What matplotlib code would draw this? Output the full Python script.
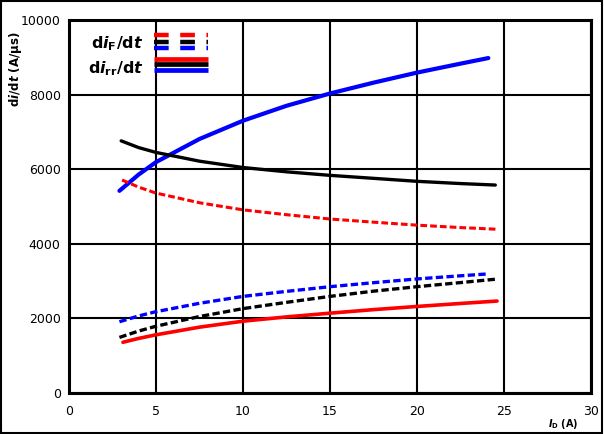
import matplotlib
matplotlib.use("Agg")
import matplotlib.pyplot as plt

plt.rcParams['font.family'] = ['DejaVu Sans']
plt.rcParams['mathtext.fontset'] = 'custom'
plt.rcParams['mathtext.rm'] = 'DejaVu Sans:bold'
plt.rcParams['mathtext.bf'] = 'DejaVu Sans:bold'
plt.rcParams['mathtext.it'] = 'DejaVu Sans:italic:bold'

# Drain current I_D (A) at which each curve was measured
i_d_blue_rr = [2.9, 4, 5, 7.5, 10, 12.5, 15, 17.5, 20, 22.5, 24.1]
i_d_black_rr = [3, 4, 5, 7.5, 10, 12.5, 15, 17.5, 20, 22.5, 24.5]
i_d_red_rr = [3.1, 4, 5, 7.5, 10, 12.5, 15, 17.5, 20, 22.5, 24.6]
i_d_red_f = [3.05, 4, 5, 7.5, 10, 12.5, 15, 17.5, 20, 22.5, 24.6]
i_d_blue_f = [2.9, 4, 5, 7.5, 10, 12.5, 15, 17.5, 20, 22.5, 24.0]
i_d_black_f = [2.9, 4, 5, 7.5, 10, 12.5, 15, 17.5, 20, 22.5, 24.5]

# di_rr/dt (A/us), solid curves
dirr_blue = [5420, 5855, 6190, 6810, 7300, 7700, 8030, 8320, 8590, 8830, 8980]
dirr_black = [6760, 6580, 6450, 6215, 6045, 5930, 5835, 5755, 5675, 5615, 5575]
dirr_red = [1360, 1463, 1560, 1765, 1925, 2040, 2140, 2235, 2320, 2400, 2465]
# di_F/dt (A/us), dashed curves
dif_red = [5710, 5520, 5360, 5100, 4910, 4780, 4665, 4580, 4500, 4435, 4390]
dif_blue = [1910, 2065, 2180, 2405, 2590, 2724, 2850, 2957, 3058, 3142, 3190]
dif_black = [1490, 1660, 1790, 2050, 2262, 2430, 2590, 2730, 2850, 2960, 3050]

x_ticks = [0, 5, 10, 15, 20, 25, 30]
y_ticks = [0, 2000, 4000, 6000, 8000, 10000]

fig = plt.figure(figsize=(6.04, 4.34), dpi=100)
ax = fig.add_axes([0.1142, 0.0945, 0.8643, 0.8594])

dash = (0, (2.2, 1.0))
ax.plot(i_d_blue_rr, dirr_blue, color='#0000ff', lw=3.0, solid_capstyle='round',
        solid_joinstyle='round', zorder=3)
ax.plot(i_d_black_rr, dirr_black, color='black', lw=2.4, solid_capstyle='round',
        solid_joinstyle='round', zorder=3)
ax.plot(i_d_red_rr, dirr_red, color='#ff0000', lw=2.6, solid_capstyle='round',
        solid_joinstyle='round', zorder=3)
ax.plot(i_d_red_f, dif_red, color='#ff0000', lw=2.2, ls=dash, zorder=3)
ax.plot(i_d_blue_f, dif_blue, color='#0000ff', lw=2.4, ls=dash, zorder=3)
ax.plot(i_d_black_f, dif_black, color='black', lw=2.4, ls=dash, zorder=3)

ax.set_xlim(0, 30)
ax.set_ylim(0, 10000)
ax.set_xticks(x_ticks)
ax.set_yticks(y_ticks)
ax.grid(True, color='black', lw=1.5)
ax.set_axisbelow(True)
for s in ax.spines.values():
    s.set_linewidth(2.2)
ax.tick_params(length=0, labelsize=9, pad=9)
ax.tick_params(axis='y', pad=6)

# legend: three stacked colour samples per quantity
leg_colors = ['#ff0000', 'black', '#0000ff']
dash_y = [0.960, 0.942, 0.925]
solid_y = [0.896, 0.881, 0.865]
for c, yd, ys in zip(leg_colors, dash_y, solid_y):
    ax.plot([0.163, 0.266], [yd, yd], transform=ax.transAxes, color=c, lw=3.2,
            ls=(0, (3.3, 2.6)), dash_capstyle='butt', clip_on=False, zorder=5)
    ax.plot([0.163, 0.266], [ys, ys], transform=ax.transAxes, color=c, lw=3.4,
            solid_capstyle='butt', clip_on=False, zorder=5)
ax.text(0.143, 0.936, r'$\mathrm{d}\mathit{i}_{\mathrm{F}}\mathrm{/d}\mathit{t}$',
        transform=ax.transAxes, ha='right', va='center', fontsize=11.5)
ax.text(0.143, 0.870, r'$\mathrm{d}\mathit{i}_{\mathrm{rr}}\mathrm{/d}\mathit{t}$',
        transform=ax.transAxes, ha='right', va='center', fontsize=11.5)

# axis labels
fig.text(0.026, 0.928, r'$\mathrm{d}\mathit{i}\mathrm{/d}\mathit{t}$' + ' (A/µs)',
         rotation=90, ha='center', va='top', fontsize=8.5, fontweight='bold')
fig.text(0.932, 0.023, r'$\mathit{I}_{\mathrm{D}}$' + ' (A)', ha='center', va='center',
         fontsize=7, fontweight='bold')

# outer frame
fig.patches.append(plt.Rectangle((0.002, 0.003), 0.995, 0.994, transform=fig.transFigure,
                                 fill=False, edgecolor='black', lw=1.5))

fig.savefig('out.png', dpi=100)
